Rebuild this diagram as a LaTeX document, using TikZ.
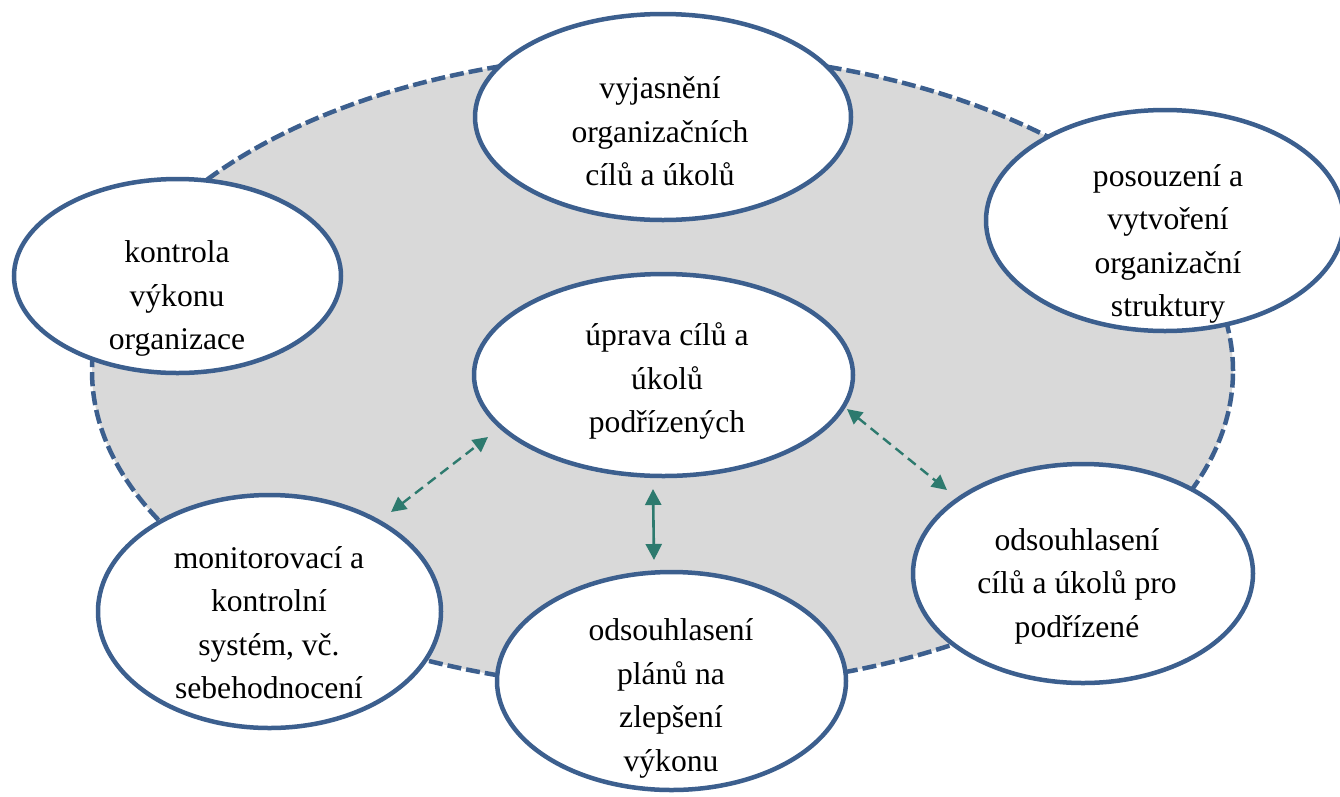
\documentclass[tikz,border=0pt]{standalone}
\usepackage{fontspec}
\setmainfont{Liberation Serif}
\usetikzlibrary{arrows.meta,shapes.geometric}
\definecolor{ringblue}{RGB}{60,95,142}
\definecolor{arrteal}{RGB}{45,122,110}
\definecolor{ringgray}{RGB}{217,217,217}
\begin{document}
\begin{tikzpicture}[x=1pt,y=-1pt,
  oval/.style={ellipse, draw=ringblue, line width=4.5pt, fill=white, inner sep=0pt},
  ring/.style={ellipse, draw=ringblue, line width=4.5pt, fill=ringgray, dash pattern=on 14pt off 5pt, inner sep=0pt},
  lbl/.style={font=\fontsize{31.6}{43.5}\selectfont, align=center, inner sep=0pt},
  dasharrow/.style={draw=arrteal, line width=2.4pt, dash pattern=on 10pt off 6pt, {Triangle[length=15pt,width=15pt]}-{Triangle[length=15pt,width=15pt]}},
  solidarrow/.style={draw=arrteal, line width=2.6pt, {Triangle[length=16pt,width=16pt]}-{Triangle[length=16pt,width=16pt]}}
]
\useasboundingbox (0,0) rectangle (1340,796);
\clip (0,0) rectangle (1340,796);
\fill[white] (0,0) rectangle (1340,796);

% big dashed ring
\node[ring, minimum width=1141pt, minimum height=635.4pt] (ring) at (662.5,371) {};

% ellipses
\node[oval, minimum width=376pt, minimum height=206pt] (top) at (663,117) {};
\node[oval, minimum width=358pt, minimum height=221pt] (rtop) at (1165,220.5) {};
\node[oval, minimum width=327pt, minimum height=194pt] (left) at (177.5,276) {};
\node[oval, minimum width=379pt, minimum height=202pt] (mid) at (663.5,375) {};
\node[oval, minimum width=340pt, minimum height=219pt] (rbot) at (1083,573.5) {};
\node[oval, minimum width=343pt, minimum height=233pt] (lbot) at (269.5,611.5) {};
\node[oval, minimum width=349pt, minimum height=218pt] (bot) at (671.5,681) {};

% texts
\node[lbl] (toptxt) at (660,131.3) {vyjasnění\\organizačních\\cílů a úkolů};
\node[lbl] (rtoptxt) at (1168,243.9) {posouzení a\\vytvoření\\organizační\\struktury};
\node[lbl] (lefttxt) at (177,298.6) {kontrola\\výkonu\\organizace};
\node[lbl] (midtxt) at (667,381.2) {úprava cílů a\\úkolů\\podřízených};
\node[lbl] (rbottxt) at (1077,586.2) {odsouhlasení\\cílů a úkolů pro\\podřízené};
\node[lbl] (lbottxt) at (269,622.6) {monitorovací a\\kontrolní\\systém, vč.\\sebehodnocení};
\node[lbl] (bottxt) at (671,698.4) {odsouhlasení\\plánů na\\zlepšení\\výkonu};

% connector ends
\coordinate (aLa) at (488,437);
\coordinate (aLb) at (391,512);
\coordinate (aRa) at (847,409);
\coordinate (aRb) at (947,490);
\coordinate (aMa) at (653,489);
\coordinate (aMb) at (654,560);

\draw[dasharrow] (aLb) -- (aLa);
\draw[dasharrow] (aRa) -- (aRb);
\draw[solidarrow] (aMa) -- (aMb);
\end{tikzpicture}
\end{document}
